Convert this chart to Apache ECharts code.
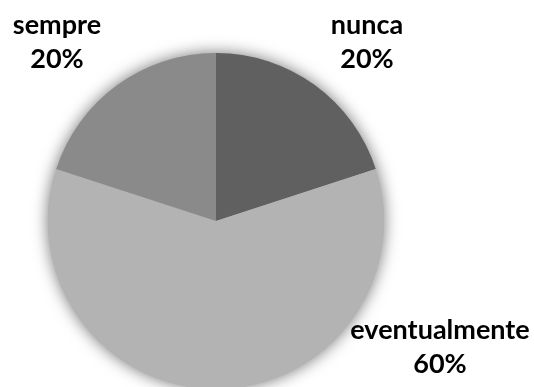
<!DOCTYPE html>
<html>
<head>
<meta charset="utf-8">
<script src="https://cdn.jsdelivr.net/npm/echarts@6/dist/echarts.min.js"></script>
<style>
  html, body { margin: 0; padding: 0; background: #fff; }
  #chart { width: 534px; height: 387px; }
</style>
</head>
<body>
<div id="chart"></div>
<script>
// Frequency of answers, in percent
const categories = ['nunca', 'eventualmente', 'sempre'];
const values = [20, 60, 20];
const sliceColors = ['#606060', '#b3b3b3', '#8a8a8a'];

// Where each two-line label sits
const labelSpots = [
  { x: 367, y: 42 },
  { x: 440, y: 347 },
  { x: 57, y: 42 }
];

const chart = echarts.init(document.getElementById('chart'));

chart.setOption({
  animation: false,
  backgroundColor: '#ffffff',
  series: [
    {
      // soft shadow disc underneath the slices
      type: 'pie',
      silent: true,
      center: [216, 221],
      radius: 168,
      startAngle: 90,
      label: { show: false },
      labelLine: { show: false },
      itemStyle: {
        color: '#b3b3b3',
        shadowBlur: 16,
        shadowColor: 'rgba(0,0,0,0.55)',
        shadowOffsetX: 0,
        shadowOffsetY: 0
      },
      data: [{ value: values.reduce((a, b) => a + b, 0) }],
      z: 1
    },
    {
      type: 'pie',
      center: [216, 221],
      radius: 168,
      startAngle: 90,
      clockwise: true,
      itemStyle: { borderWidth: 0 },
      label: {
        show: true,
        position: 'outside',
        formatter: p => p.name + '\n' + p.value + '%',
        fontFamily: 'Lato',
        fontWeight: 'bold',
        fontSize: 27,
        lineHeight: 34,
        color: '#000',
        align: 'center',
        overflow: 'none',
        width: 220
      },
      labelLine: { show: false },
      labelLayout: params => {
        const s = labelSpots[params.dataIndex];
        return { x: s.x, y: s.y, align: 'center', verticalAlign: 'middle', hideOverlap: false };
      },
      data: categories.map((name, i) => ({
        name: name,
        value: values[i],
        itemStyle: { color: sliceColors[i] }
      })),
      z: 2
    }
  ]
});
</script>
</body>
</html>
